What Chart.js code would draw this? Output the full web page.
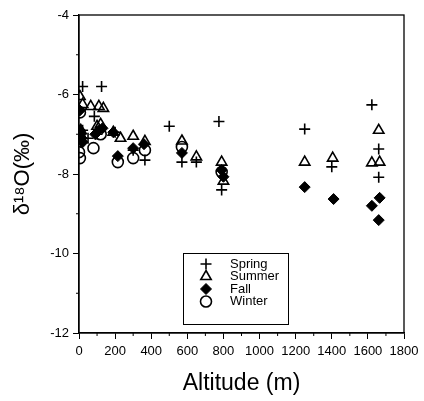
<!DOCTYPE html>
<html>
<head>
<meta charset="utf-8">
<script src="https://cdn.jsdelivr.net/npm/chart.js@4"></script>
<style>
html,body{margin:0;padding:0;background:#fff;}
#wrap{width:424px;height:401px;}
</style>
</head>
<body>
<div id="wrap"><canvas id="c" width="424" height="401"></canvas></div>
<script>
// Data: [altitude (m), delta value]
const seriesNames = ['Spring', 'Summer', 'Fall', 'Winter'];
const springPts = [[20,-5.8],[125,-5.8],[85,-6.55],[0,-7.0],[10,-7.2],[20,-6.9],[50,-7.1],[100,-7.0],[200,-6.95],[300,-7.4],[365,-7.65],[500,-6.8],[570,-7.7],[650,-7.7],[775,-6.68],[790,-8.4],[1250,-6.87],[1400,-7.82],[1622,-6.26],[1660,-7.37],[1660,-8.08]];
const summerPts = [[5,-6.05],[20,-6.25],[65,-6.3],[110,-6.3],[135,-6.35],[10,-6.9],[100,-6.8],[120,-6.75],[190,-6.95],[230,-7.1],[300,-7.05],[365,-7.18],[570,-7.17],[650,-7.57],[790,-7.7],[800,-8.18],[1250,-7.7],[1405,-7.6],[1622,-7.72],[1665,-7.7],[1660,-6.9]];
const fallPts = [[5,-6.4],[5,-6.9],[10,-7.0],[15,-7.1],[20,-7.2],[90,-7.0],[110,-6.9],[130,-6.85],[190,-6.95],[215,-7.55],[300,-7.35],[360,-7.25],[570,-7.47],[790,-7.9],[800,-8.07],[1250,-8.33],[1410,-8.63],[1622,-8.8],[1665,-8.6],[1660,-9.16]];
const winterPts = [[5,-6.45],[0,-7.45],[5,-7.6],[80,-7.35],[120,-7.0],[215,-7.7],[300,-7.6],[365,-7.4],[570,-7.32],[790,-7.95]];
const xTicks = [0,200,400,600,800,1000,1200,1400,1600,1800];
const yTicks = [-12,-10,-8,-6,-4];

const toXY = arr => arr.map(p => ({x: p[0], y: p[1]}));
const FONT = '"Liberation Sans", Arial, sans-serif';

const frameAndMinor = {
  id: 'frameAndMinor',
  afterDraw(chart) {
    const ctx = chart.ctx, a = chart.chartArea;
    const xs = chart.scales.x, ys = chart.scales.y;
    ctx.save();
    ctx.strokeStyle = '#000';
    ctx.lineWidth = 1.3;
    ctx.strokeRect(a.left, a.top, a.right - a.left, a.bottom - a.top);
    ctx.lineWidth = 1;
    for (let i = 0; i < xTicks.length - 1; i++) {
      const v = (xTicks[i] + xTicks[i+1]) / 2;
      const px = xs.getPixelForValue(v);
      ctx.beginPath(); ctx.moveTo(px, a.bottom); ctx.lineTo(px, a.bottom + 3); ctx.stroke();
    }
    for (let i = 0; i < yTicks.length - 1; i++) {
      const v = (yTicks[i] + yTicks[i+1]) / 2;
      const py = ys.getPixelForValue(v);
      ctx.beginPath(); ctx.moveTo(a.left, py); ctx.lineTo(a.left - 3, py); ctx.stroke();
    }
    ctx.restore();
  }
};

const boxLegend = {
  id: 'boxLegend',
  afterDatasetsDraw(chart, args, opts) {
    const ctx = chart.ctx;
    const bx = opts.x, by = opts.y, bw = opts.w, bh = opts.h;
    ctx.save();
    ctx.fillStyle = '#fff';
    ctx.fillRect(bx, by, bw, bh);
    ctx.strokeStyle = '#000';
    ctx.lineWidth = 1;
    ctx.strokeRect(bx + 0.5, by + 0.5, bw, bh);
    ctx.font = '13px ' + FONT;
    ctx.textBaseline = 'middle';
    ctx.textAlign = 'left';
    chart.data.datasets.forEach((ds, i) => {
      const cy = by + opts.firstY + i * opts.step;
      ctx.strokeStyle = '#000';
      ctx.fillStyle = ds.backgroundColor;
      ctx.lineWidth = ds.borderWidth;
      Chart.helpers.drawPoint(ctx, {pointStyle: ds.pointStyle, radius: ds.pointRadius, borderWidth: ds.borderWidth, rotation: 0}, bx + opts.markX, cy);
      ctx.fillStyle = '#000';
      ctx.fillText(ds.label, bx + opts.textX, cy);
    });
    ctx.restore();
  }
};

new Chart(document.getElementById('c'), {
  type: 'scatter',
  data: {
    datasets: [
      {label: seriesNames[0], data: toXY(springPts), pointStyle: 'cross', pointRadius: 5.5, borderColor: '#000', backgroundColor: '#000', borderWidth: 1.6},
      {label: seriesNames[1], data: toXY(summerPts), pointStyle: 'triangle', pointRadius: 6, borderColor: '#000', backgroundColor: 'rgba(255,255,255,0)', borderWidth: 1.6},
      {label: seriesNames[2], data: toXY(fallPts), pointStyle: 'rectRot', pointRadius: 5.5, borderColor: '#000', backgroundColor: '#000', borderWidth: 1},
      {label: seriesNames[3], data: toXY(winterPts), pointStyle: 'circle', pointRadius: 5.5, borderColor: '#000', backgroundColor: 'rgba(255,255,255,0)', borderWidth: 1.6}
    ]
  },
  options: {
    responsive: false,
    animation: false,
    devicePixelRatio: 1,
    layout: {padding: {top: 15, right: 20, left: 0, bottom: 0}},
    plugins: {
      legend: {display: false},
      tooltip: {enabled: false},
      boxLegend: {x: 183, y: 253, w: 105, h: 71, markX: 23, textX: 47, firstY: 11, step: 12.5}
    },
    scales: {
      x: {
        type: 'linear', min: 0, max: 1800,
        afterBuildTicks: s => { s.ticks = xTicks.map(v => ({value: v})); },
        afterFit: s => { s.height = 68; },
        grid: {drawOnChartArea: false, drawTicks: true, tickLength: 6, color: '#000', tickWidth: 1},
        border: {display: true, color: '#000', width: 1.3},
        ticks: {color: '#000', font: {family: FONT, size: 13}, padding: 5, maxRotation: 0, autoSkip: false, callback: v => String(v)},
        title: {display: true, text: 'Altitude (m)', color: '#000', font: {family: FONT, size: 23}, padding: {top: 0, bottom: 4}}
      },
      y: {
        type: 'linear', min: -12, max: -4,
        afterBuildTicks: s => { s.ticks = yTicks.map(v => ({value: v})); },
        afterFit: s => { s.width = 79; },
        grid: {drawOnChartArea: false, drawTicks: true, tickLength: 6, color: '#000', tickWidth: 1},
        border: {display: true, color: '#000', width: 1.3},
        ticks: {color: '#000', font: {family: FONT, size: 13}, padding: 4, callback: v => String(v)},
        title: {display: true, text: 'δ¹⁸O(‰)', color: '#000', font: {family: FONT, size: 22}, padding: {top: 10, bottom: 0}}
      }
    }
  },
  plugins: [frameAndMinor, boxLegend]
});
</script>
</body>
</html>
